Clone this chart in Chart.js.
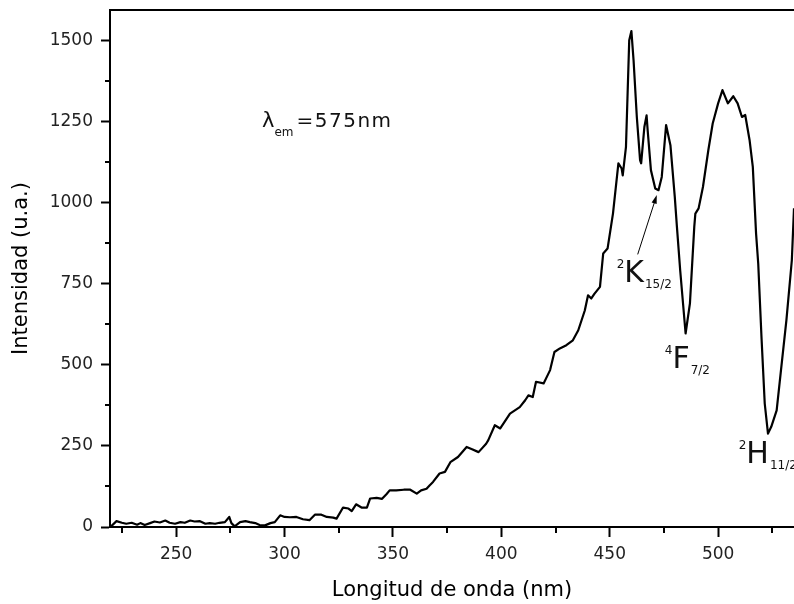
<!DOCTYPE html>
<html>
<head>
<meta charset="utf-8">
<script src="https://cdn.jsdelivr.net/npm/chart.js@4/dist/chart.umd.min.js"></script>
<style>
  html, body { margin: 0; padding: 0; background: #fff; }
  canvas { display: block; }
</style>
</head>
<body>
<canvas id="spectrum" width="794" height="604"></canvas>
<script>
// Excitation spectrum
const wavelengths = [
  220, 222.5, 225, 227, 229.5, 232, 233.5, 235.5, 238, 240, 242.5, 245, 247, 249.5,
  252, 254, 256.5, 258.5, 261, 263.5, 265.5, 268, 270, 272.5, 274.5, 275.5, 277,
  279.5, 282, 284, 286.5, 288.5, 291, 293.5, 295.5, 298, 300, 302.5, 305.5, 308.5,
  311.5, 314, 317, 319.5, 322.5, 324, 327, 329.5, 331, 333, 335.5, 338, 339.5,
  342.5, 345, 347, 348.5, 351.5, 355, 358, 361, 363, 365.5, 367, 368.5, 371.5, 374,
  376.5, 380, 384, 386.5, 389.5, 393, 394, 397, 399.5, 404, 408.5, 411, 412.5,
  414.5, 416, 419.5, 422.5, 424.5, 427, 430, 433, 435.5, 438.5, 440, 441.5, 443,
  445.5, 447, 449, 451.5, 454, 455.5, 456, 457.5, 459, 460, 461, 462.5, 464, 464.5,
  466, 467, 467.5, 469, 471, 472.5, 474, 476, 478, 480, 481, 482.5, 485, 487, 489,
  489.5, 491, 493, 495.5, 497.5, 500, 502, 504.5, 507, 509, 511, 512.5, 514.5, 516,
  517.5, 518.5, 520, 521.5, 523, 524.5, 527, 529, 531.5, 534, 535
];
const intensity = [
  2, 18, 13, 10, 13, 7, 12, 6, 12, 17, 14, 20, 13, 10,
  15, 13, 20, 17, 18, 10, 12, 10, 13, 15, 31, 12, 2,
  15, 18, 15, 12, 6, 5, 12, 15, 36, 31, 30, 31, 24,
  21, 38, 38, 31, 29, 26, 60, 57, 49, 70, 60, 60, 88,
  90, 87, 101, 113, 113, 115, 115, 103, 113, 118, 129, 139, 165, 170,
  200, 216, 247, 240, 231, 257, 268, 314, 304, 350, 370, 391, 406,
  401, 448, 443, 484, 540, 551, 561, 576, 607, 668, 715, 705, 720,
  741, 844, 859, 967, 1122, 1106, 1085, 1173, 1502, 1530, 1440, 1265, 1132, 1122,
  1235, 1270, 1224, 1101, 1044, 1039, 1080, 1240, 1178, 1019, 926, 792, 597, 690, 926,
  967, 983, 1049, 1163, 1245, 1307, 1348, 1307, 1329, 1307, 1265, 1271, 1194, 1111,
  906, 813, 586, 381, 288, 309, 360, 484, 638, 823, 983
];

const xTicks = [250, 300, 350, 400, 450, 500];
const xMinorTicks = [225, 275, 325, 375, 425, 475, 525];
const yTicks = [0, 250, 500, 750, 1000, 1250, 1500];
const yMinorTicks = [125, 375, 625, 875, 1125, 1375];

// labels: [superscript, main, subscript, x, y]
const levelLabels = [
  ["2", "K", "15/2", 453.2, 755],
  ["4", "F", "7/2", 475.4, 489],
  ["2", "H", "11/2", 509.5, 196],
];
const arrowFrom = [462.9, 841];
const arrowTo = [471.7, 1024];
const lambdaLabel = ["λ", "em", "=575nm", 289.6, 1233];

const FONT = "'DejaVu Sans', sans-serif";

const decorations = {
  id: "decorations",
  afterDraw(chart) {
    const ctx = chart.ctx;
    const xs = chart.scales.x;
    const ys = chart.scales.y;
    const area = chart.chartArea;
    ctx.save();
    ctx.strokeStyle = "#000";
    ctx.lineWidth = 2;

    // top frame line
    ctx.beginPath();
    ctx.moveTo(area.left - 1, area.top);
    ctx.lineTo(area.right, area.top);
    ctx.stroke();

    // minor ticks
    xMinorTicks.forEach((v) => {
      const px = Math.round(xs.getPixelForValue(v));
      ctx.beginPath();
      ctx.moveTo(px, area.bottom);
      ctx.lineTo(px, area.bottom + 6);
      ctx.stroke();
    });
    yMinorTicks.forEach((v) => {
      const py = Math.round(ys.getPixelForValue(v));
      ctx.beginPath();
      ctx.moveTo(area.left - 5, py);
      ctx.lineTo(area.left, py);
      ctx.stroke();
    });

    // arrow to 2K15/2
    const ax0 = xs.getPixelForValue(arrowFrom[0]);
    const ay0 = ys.getPixelForValue(arrowFrom[1]);
    const ax1 = xs.getPixelForValue(arrowTo[0]);
    const ay1 = ys.getPixelForValue(arrowTo[1]);
    const ang = Math.atan2(ay1 - ay0, ax1 - ax0);
    ctx.lineWidth = 1;
    ctx.beginPath();
    ctx.moveTo(ax0, ay0);
    ctx.lineTo(ax1 - 6 * Math.cos(ang), ay1 - 6 * Math.sin(ang));
    ctx.stroke();
    ctx.fillStyle = "#000";
    ctx.beginPath();
    ctx.moveTo(ax1, ay1);
    ctx.lineTo(ax1 - 9 * Math.cos(ang - 0.3), ay1 - 9 * Math.sin(ang - 0.3));
    ctx.lineTo(ax1 - 9 * Math.cos(ang + 0.3), ay1 - 9 * Math.sin(ang + 0.3));
    ctx.closePath();
    ctx.fill();

    // level labels
    ctx.fillStyle = "#111";
    ctx.textBaseline = "alphabetic";
    ctx.textAlign = "left";
    levelLabels.forEach(([sup, main, sub, vx, vy]) => {
      let px = xs.getPixelForValue(vx);
      const py = ys.getPixelForValue(vy);
      ctx.font = "12px " + FONT;
      ctx.fillText(sup, px, py - 14);
      px += ctx.measureText(sup).width;
      ctx.font = "30px " + FONT;
      ctx.fillText(main, px, py);
      px += ctx.measureText(main).width + 1;
      ctx.font = "12px " + FONT;
      ctx.fillText(sub, px, py + 6);
    });

    // lambda label
    const [lam, lamSub, lamText, lx, ly] = lambdaLabel;
    let px = xs.getPixelForValue(lx);
    const py = ys.getPixelForValue(ly);
    ctx.font = "21px " + FONT;
    ctx.fillText(lam, px, py);
    px += ctx.measureText(lam).width;
    ctx.font = "12px " + FONT;
    ctx.fillText(lamSub, px, py + 9);
    px += ctx.measureText(lamSub).width + 3;
    ctx.font = "20px " + FONT;
    ctx.letterSpacing = "1.5px";
    ctx.fillText(lamText, px, py);
    ctx.restore();
  },
};

new Chart(document.getElementById("spectrum"), {
  type: "scatter",
  data: {
    datasets: [
      {
        data: wavelengths.map((w, i) => ({ x: w, y: intensity[i] })),
        showLine: true,
        borderColor: "#000",
        borderWidth: 2.2,
        pointRadius: 0,
        tension: 0,
        borderJoinStyle: "round",
      },
    ],
  },
  options: {
    responsive: false,
    animation: false,
    devicePixelRatio: 1,
    layout: { padding: { top: 10, right: 0, left: 0, bottom: 0 } },
    plugins: { legend: { display: false }, tooltip: { enabled: false } },
    scales: {
      x: {
        type: "linear",
        min: 219.5,
        max: 535,
        afterBuildTicks: (scale) => {
          scale.ticks = xTicks.map((v) => ({ value: v }));
        },
        afterFit: (scale) => {
          scale.height = 77;
          scale.paddingLeft = 0;
          scale.paddingRight = 0;
        },
        ticks: {
          font: { family: FONT, size: 17 },
          color: "#222",
          padding: 7,
          maxRotation: 0,
          callback: (v) => String(v),
        },
        grid: {
          drawOnChartArea: false,
          tickLength: 10,
          tickWidth: 2,
          tickColor: "#000",
        },
        border: { color: "#000", width: 2 },
        title: {
          display: true,
          text: "Longitud de onda (nm)",
          font: { family: FONT, size: 21 },
          color: "#000",
          padding: { top: 0, bottom: 1 },
        },
      },
      y: {
        min: 0,
        max: 1595,
        afterBuildTicks: (scale) => {
          scale.ticks = yTicks.map((v) => ({ value: v }));
        },
        afterFit: (scale) => {
          scale.width = 110;
          scale.paddingTop = 0;
          scale.paddingBottom = 0;
        },
        ticks: {
          font: { family: FONT, size: 17 },
          color: "#222",
          padding: 8,
          callback: (v) => String(v),
        },
        grid: {
          drawOnChartArea: false,
          tickLength: 9,
          tickWidth: 2,
          tickColor: "#000",
        },
        border: { color: "#000", width: 2 },
        title: {
          display: true,
          text: "Intensidad (u.a.)",
          font: { family: FONT, size: 21 },
          color: "#000",
          padding: { top: 9, bottom: 0 },
        },
      },
    },
  },
  plugins: [decorations],
});
</script>
</body>
</html>
